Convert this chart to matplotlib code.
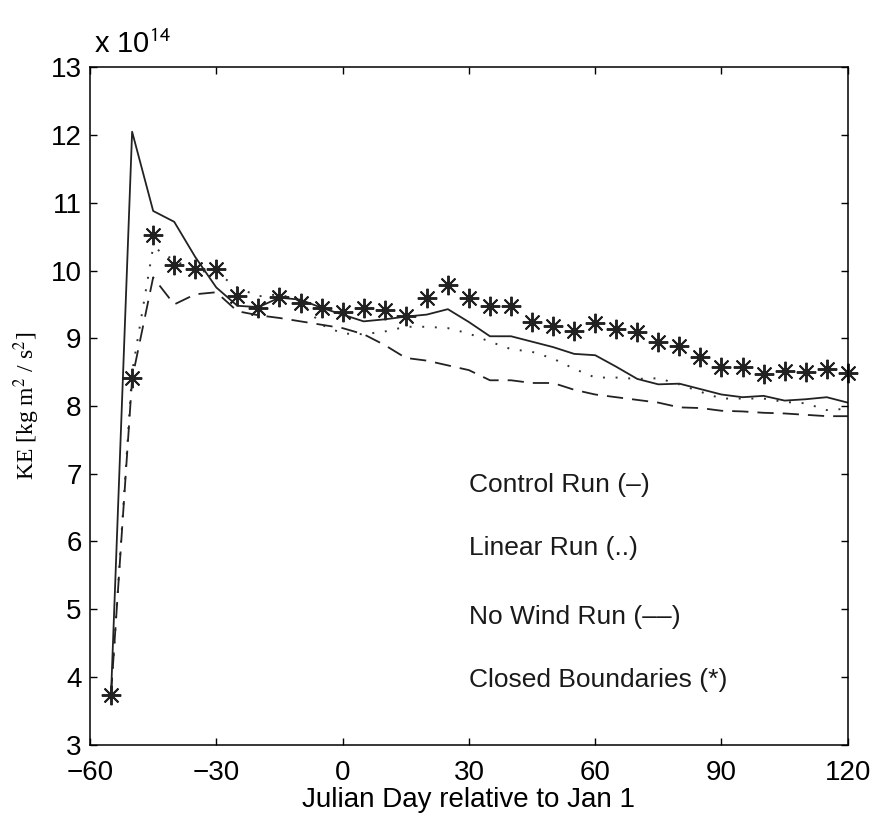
import matplotlib
matplotlib.use("Agg")
import matplotlib.pyplot as plt
import numpy as np

# KE time series (units of 1e14 kg m^2/s^2), sampled every 5 days
days = np.arange(-55, 121, 5)

control_run = [3.75, 12.05, 10.88, 10.72, 10.20, 9.75, 9.48, 9.46, 9.60, 9.57,
               9.45, 9.35, 9.25, 9.28, 9.32, 9.35, 9.43, 9.24, 9.03, 9.03,
               8.95, 8.87, 8.77, 8.75, 8.58, 8.40, 8.32, 8.33, 8.25, 8.17,
               8.13, 8.15, 8.08, 8.10, 8.13, 8.05]

linear_run = [3.75, 8.50, 10.35, 10.15, 10.00, 9.97, 9.75, 9.62, 9.65, 9.55,
              9.20, 9.07, 9.06, 9.10, 9.17, 9.17, 9.15, 9.07, 8.95, 8.84,
              8.80, 8.70, 8.55, 8.42, 8.42, 8.40, 8.41, 8.32, 8.21, 8.11,
              8.11, 8.11, 8.06, 8.04, 7.94, 7.96]

no_wind_run = [3.75, 8.40, 9.90, 9.50, 9.65, 9.68, 9.40, 9.34, 9.30, 9.25,
               9.20, 9.15, 9.06, 8.90, 8.71, 8.67, 8.60, 8.53, 8.38, 8.38,
               8.34, 8.34, 8.24, 8.17, 8.13, 8.09, 8.05, 7.98, 7.97, 7.93,
               7.92, 7.90, 7.89, 7.87, 7.85, 7.85]

closed_boundaries = [3.74, 8.42, 10.52, 10.08, 10.02, 10.02, 9.63, 9.44, 9.61, 9.52,
                     9.44, 9.39, 9.44, 9.42, 9.33, 9.60, 9.79, 9.59, 9.48, 9.48,
                     9.24, 9.18, 9.11, 9.23, 9.14, 9.09, 8.95, 8.89, 8.73, 8.58,
                     8.57, 8.48, 8.51, 8.50, 8.54, 8.49]

run_labels = ["Control Run (\u2013)", "Linear Run (..)",
              "No Wind Run (\u2013\u2013)", "Closed Boundaries (*)"]
label_y = [6.83, 5.91, 4.89, 3.95]

xticks = [-60, -30, 0, 30, 60, 90, 120]
yticks = list(range(3, 14))

plt.rcParams['font.family'] = ['Liberation Sans', 'DejaVu Sans']
plt.rcParams['mathtext.fontset'] = 'stix'

fig = plt.figure(figsize=(8.74, 8.32), dpi=100)
ax = fig.add_axes([0.103, 0.105, 0.867, 0.814])

ax.plot(days, control_run, '-', color='#222222', lw=1.3)
ax.plot(days, linear_run, color='#333333', lw=1.4, linestyle=(0, (1, 5.5)))
ax.plot(days, no_wind_run, color='#222222', lw=1.3, linestyle=(0, (9, 5)))
ax.plot(days, closed_boundaries, linestyle='none', marker=(8, 2, 0),
        markersize=14, markeredgewidth=1.4, color='#222222', clip_on=False)

# labels instead of a legend
for txt, yy in zip(run_labels, label_y):
    ax.text(30, yy, txt, fontsize=19, ha='left', va='center', color='#1a1a1a')

ax.set_xlim(-60, 120)
ax.set_ylim(3, 13)
ax.set_xticks(xticks)
ax.set_yticks(yticks)
ax.tick_params(direction='in', top=True, right=True, length=5, width=1,
               labelsize=20)
ax.tick_params(axis='x', pad=11)
ax.tick_params(axis='y', pad=6)
for s in ax.spines.values():
    s.set_linewidth(1.1)

ax.set_xlabel('Julian Day relative to Jan 1', fontsize=20, labelpad=1)
ax.set_ylabel('KE [kg m$^{2}$ / s$^{2}$]', fontsize=17,
              family=['Liberation Serif'], labelpad=6)

ax.text(0.005, 1.012, r'x 10$^{\mathsf{14}}$', transform=ax.transAxes,
        fontsize=21, ha='left', va='bottom')

fig.savefig('out.png', dpi=100)
